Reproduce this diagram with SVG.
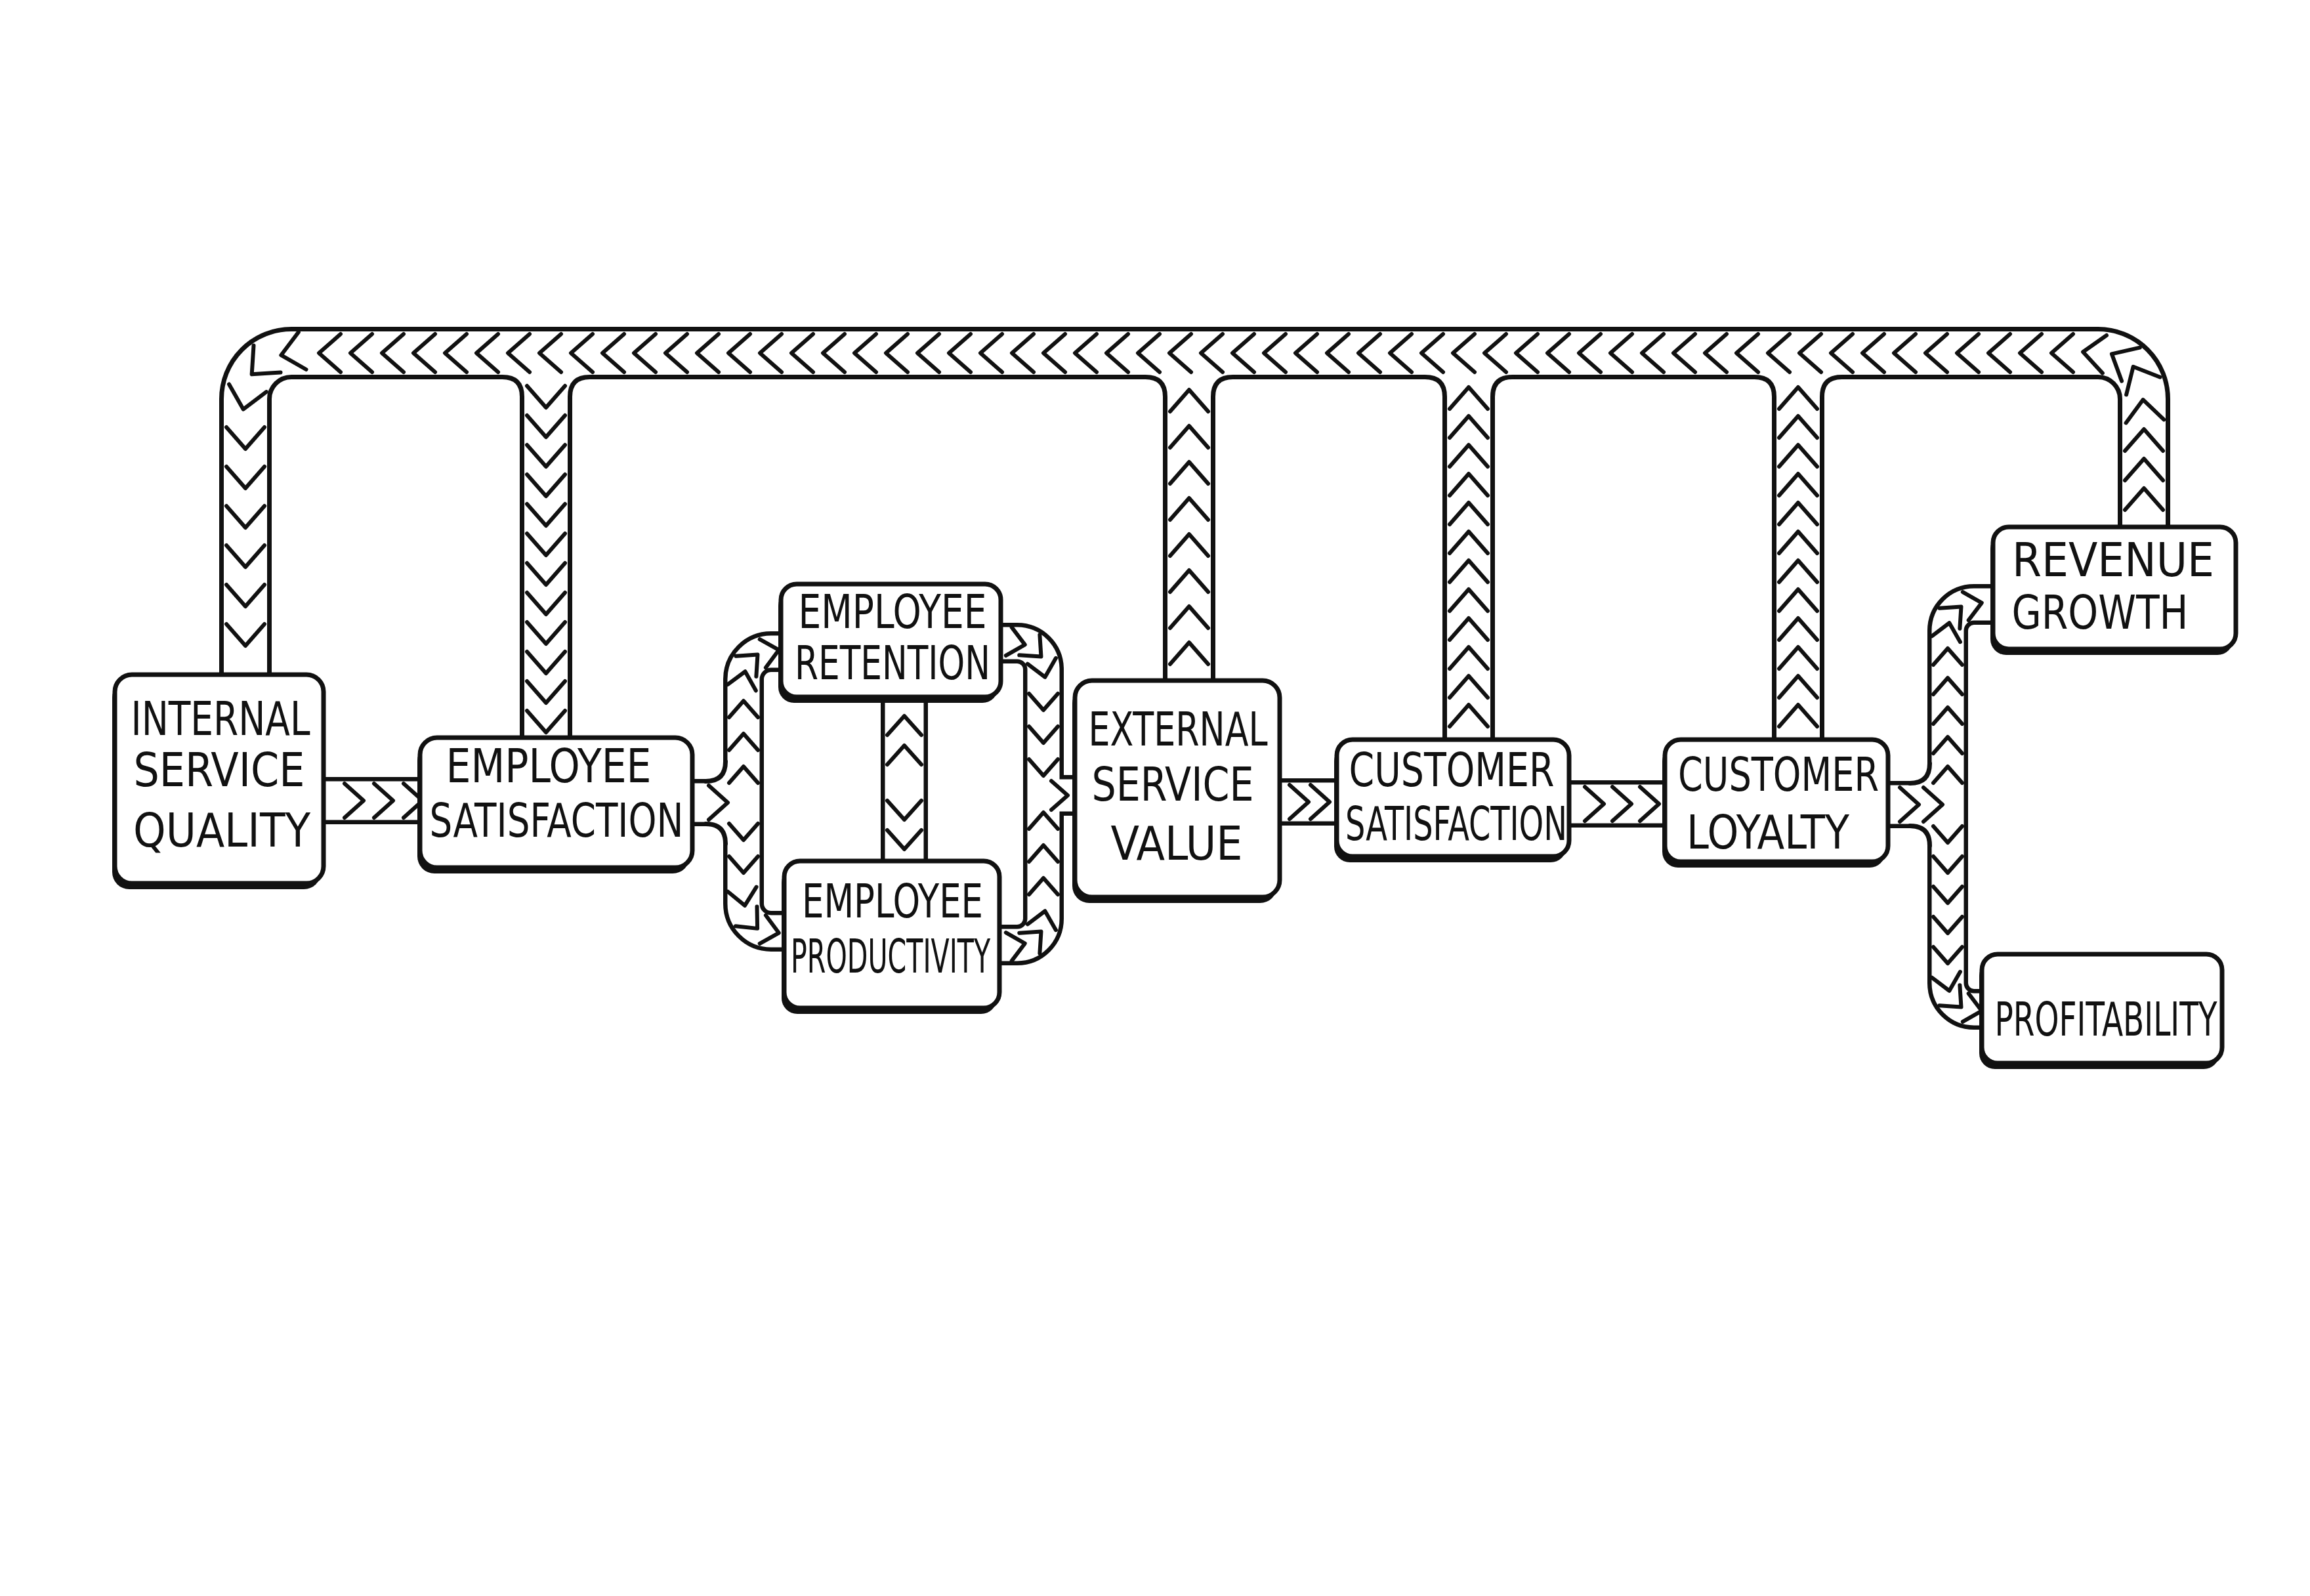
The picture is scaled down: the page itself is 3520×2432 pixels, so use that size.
<svg xmlns="http://www.w3.org/2000/svg" width="3520" height="2432" viewBox="0 0 3520 2432">
<style>
.bk{fill:none;stroke:#111;stroke-linejoin:round}
.wt{fill:none;stroke:#fff;stroke-linejoin:round}
.s1.bk{stroke-width:80}.s1.wt{stroke-width:66}
.s2.bk{stroke-width:72}.s2.wt{stroke-width:59}
.s3.bk{stroke-width:62}.s3.wt{stroke-width:49}
.chev{fill:none;stroke:#111;stroke-width:6;stroke-linecap:round;stroke-linejoin:round}
.m1{fill:none;stroke:none;marker-mid:url(#cv)}
.m2{fill:none;stroke:none;marker-mid:url(#cvm)}
.m3{fill:none;stroke:none;marker-mid:url(#cvs)}
.filw{fill:#fff;stroke:none}
.filb{fill:none;stroke:#111;stroke-width:7;stroke-linecap:round}
.shadow{fill:#111}
.box{fill:#fff;stroke:#111;stroke-width:7}
.lbl{font-family:"Liberation Sans Narrow","DejaVu Sans Condensed","Liberation Sans",sans-serif;font-size:72px;fill:#111;text-anchor:middle}
</style>
<defs>
<marker id="cv" viewBox="-40 -40 80 80" markerWidth="80" markerHeight="80" refX="0" refY="0" orient="auto" markerUnits="userSpaceOnUse"><path class="chev" d="M-17 -29 L16 0 L-17 29"/></marker>
<marker id="cvm" viewBox="-40 -40 80 80" markerWidth="80" markerHeight="80" refX="0" refY="0" orient="auto" markerUnits="userSpaceOnUse"><path class="chev" d="M-15 -26 L14 0 L-15 26"/></marker>
<marker id="cvs" viewBox="-40 -40 80 80" markerWidth="80" markerHeight="80" refX="0" refY="0" orient="auto" markerUnits="userSpaceOnUse"><path class="chev" d="M-13 -22 L12 0 L-13 22"/></marker>
<g id="fil"><path class="filw" d="M-30 -4 H4 V30 L0 30 Q0 0 -30 0 Z"/><path class="filb" d="M-30 0 Q0 0 0 30"/></g>
</defs>
<rect width="3520" height="2432" fill="#fff"/>
<g id="connectors">
<g id="outlines">
<path class="bk s1" d="M374 1040 V608 A70 70 0 0 1 444 538 H3197 A70 70 0 0 1 3267 608 V810"/>
<path class="bk s1" d="M832 538 V1130"/>
<path class="bk s1" d="M1812 538 V1045"/>
<path class="bk s1" d="M2238 538 V1130"/>
<path class="bk s1" d="M2740 538 V1130"/>
<path class="bk s2" d="M490 1220 H648"/>
<path class="bk s2" d="M1052 1223 H1133"/>
<path class="bk s2" d="M1945 1222 H2042"/>
<path class="bk s2" d="M2385 1225 H2542"/>
<path class="bk s2" d="M2872 1226 H2968"/>
<path class="bk s3" d="M1195 993 H1175 A42 42 0 0 0 1133 1035 V1377 A42 42 0 0 0 1175 1419 H1200"/>
<path class="bk s2" d="M1378 1060 V1320"/>
<path class="bk s3" d="M1520 980 H1550 A40 40 0 0 1 1590 1020 V1400 A40 40 0 0 1 1550 1440 H1520"/>
<path class="bk s3" d="M1590 1212 H1645"/>
<path class="bk s3" d="M3042 921 H3008 A40 40 0 0 0 2968 961 V1498 A40 40 0 0 0 3008 1538 H3025"/>
<path class="wt s1" d="M374 1040 V608 A70 70 0 0 1 444 538 H3197 A70 70 0 0 1 3267 608 V810"/>
<path class="wt s1" d="M832 538 V1130"/>
<path class="wt s1" d="M1812 538 V1045"/>
<path class="wt s1" d="M2238 538 V1130"/>
<path class="wt s1" d="M2740 538 V1130"/>
<path class="wt s2" d="M490 1220 H648"/>
<path class="wt s2" d="M1052 1223 H1133"/>
<path class="wt s2" d="M1945 1222 H2042"/>
<path class="wt s2" d="M2385 1225 H2542"/>
<path class="wt s2" d="M2872 1226 H2968"/>
<path class="wt s3" d="M1195 993 H1175 A42 42 0 0 0 1133 1035 V1377 A42 42 0 0 0 1175 1419 H1200"/>
<path class="wt s2" d="M1378 1060 V1320"/>
<path class="wt s3" d="M1520 980 H1550 A40 40 0 0 1 1590 1020 V1400 A40 40 0 0 1 1550 1440 H1520"/>
<path class="wt s3" d="M1590 1212 H1645"/>
<path class="wt s3" d="M3042 921 H3008 A40 40 0 0 0 2968 961 V1498 A40 40 0 0 0 3008 1538 H3025"/>
</g>
<g id="fillets">
<use href="#fil" transform="translate(795.5 574.5)"/>
<use href="#fil" transform="translate(868.5 574.5) scale(-1 1)"/>
<use href="#fil" transform="translate(1775.5 574.5)"/>
<use href="#fil" transform="translate(1848.5 574.5) scale(-1 1)"/>
<use href="#fil" transform="translate(2201.5 574.5)"/>
<use href="#fil" transform="translate(2274.5 574.5) scale(-1 1)"/>
<use href="#fil" transform="translate(2703.5 574.5)"/>
<use href="#fil" transform="translate(2776.5 574.5) scale(-1 1)"/>
<use href="#fil" transform="translate(1105.5 1190.5) scale(1 -1)"/>
<use href="#fil" transform="translate(1105.5 1255.5)"/>
<use href="#fil" transform="translate(2940.5 1193.5) scale(1 -1)"/>
<use href="#fil" transform="translate(2940.5 1258.5)"/>
</g>
<g id="chevrons">
<path class="m1" d="M3267 805 V760 V715 V670 V625 L3258 573 L3232 547 L3190 538 H3142 H3094 H3046 H2998 H2950 H2902 H2854 H2806 H2758 H2710 H2662 H2614 H2566 H2518 H2470 H2422 H2374 H2326 H2278 H2230 H2182 H2134 H2086 H2038 H1990 H1942 H1894 H1846 H1798 H1750 H1702 H1654 H1606 H1558 H1510 H1462 H1414 H1366 H1318 H1270 H1222 H1174 H1126 H1078 H1030 H982 H934 H886 H838 H790 H742 H694 H646 H598 H550 H502 L444 538 L395 559 L374 608 V668 V728 V788 V848 V908 V968 V1035"/>
<path class="m1" d="M832 560 V605 V650 V695 V740 V785 V830 V875 V920 V965 V1010 V1055 V1100 V1130"/>
<path class="m1" d="M1812 1045 V995 V940 V885 V830 V775 V720 V665 V610 V560"/>
<path class="m1" d="M2238 1130 V1090 V1046 V1002 V958 V914 V870 V826 V782 V738 V694 V650 V606 V560"/>
<path class="m1" d="M2740 1130 V1090 V1046 V1002 V958 V914 V870 V826 V782 V738 V694 V650 V606 V560"/>
<path class="m2" d="M495 1220 H540 H585 H630 H648"/>
<path class="m2" d="M1055 1223 H1095 H1133"/>
<path class="m3" d="M1133 1223 V1180 V1130 V1080 V1035 L1146 1006 L1175 993 H1200"/>
<path class="m3" d="M1133 1223 V1268 V1318 V1368 L1146 1406 L1175 1419 H1200"/>
<path class="m2" d="M1378 1190 V1150 V1105 V1065"/>
<path class="m2" d="M1378 1190 V1235 V1280 V1320"/>
<path class="m3" d="M1520 980 L1550 980 L1578 992 L1590 1020 V1070 V1120 V1170 V1212"/>
<path class="m3" d="M1520 1440 L1550 1440 L1578 1428 L1590 1400 V1350 V1300 V1250 V1212"/>
<path class="m3" d="M1590 1212 H1615 H1645"/>
<path class="m2" d="M1948 1222 H1980 H2012 H2044"/>
<path class="m2" d="M2388 1225 H2430 H2472 H2514 H2542"/>
<path class="m2" d="M2875 1226 H2910 H2946 H2968"/>
<path class="m3" d="M2968 1226 V1180 V1135 V1090 V1045 V1000 V961 L2980 933 L3008 921 H3042"/>
<path class="m3" d="M2968 1226 V1272 V1318 V1364 V1410 V1456 V1498 L2980 1526 L3008 1538 H3025"/>
</g>
</g>
<g id="node-internal-service-quality">
<rect class="shadow" x="171" y="1037" width="318" height="318" rx="26"/>
<rect class="box" x="175" y="1028" width="318" height="318" rx="26"/>
<text class="lbl" x="336" y="1120" textLength="273" lengthAdjust="spacingAndGlyphs">INTERNAL</text>
<text class="lbl" x="334" y="1198" textLength="261" lengthAdjust="spacingAndGlyphs">SERVICE</text>
<text class="lbl" x="338" y="1290" textLength="270" lengthAdjust="spacingAndGlyphs">QUALITY</text>
</g>
<g id="node-employee-satisfaction">
<rect class="shadow" x="636" y="1133" width="415" height="198" rx="26"/>
<rect class="box" x="640" y="1124" width="415" height="198" rx="26"/>
<text class="lbl" x="836" y="1192" textLength="313" lengthAdjust="spacingAndGlyphs">EMPLOYEE</text>
<text class="lbl" x="848" y="1275" textLength="387" lengthAdjust="spacingAndGlyphs">SATISFACTION</text>
</g>
<g id="node-employee-retention">
<rect class="shadow" x="1186" y="899" width="335" height="172" rx="24"/>
<rect class="box" x="1190" y="890" width="335" height="172" rx="24"/>
<text class="lbl" x="1360" y="957" textLength="287" lengthAdjust="spacingAndGlyphs">EMPLOYEE</text>
<text class="lbl" x="1360" y="1035" textLength="298" lengthAdjust="spacingAndGlyphs">RETENTION</text>
</g>
<g id="node-employee-productivity">
<rect class="shadow" x="1191" y="1321" width="328" height="224" rx="24"/>
<rect class="box" x="1195" y="1312" width="328" height="224" rx="24"/>
<text class="lbl" x="1360" y="1398" textLength="276" lengthAdjust="spacingAndGlyphs">EMPLOYEE</text>
<text class="lbl" x="1357" y="1482" textLength="304" lengthAdjust="spacingAndGlyphs">PRODUCTIVITY</text>
</g>
<g id="node-external-service-value">
<rect class="shadow" x="1634" y="1046" width="312" height="330" rx="26"/>
<rect class="box" x="1638" y="1037" width="312" height="330" rx="26"/>
<text class="lbl" x="1795" y="1136" textLength="273" lengthAdjust="spacingAndGlyphs">EXTERNAL</text>
<text class="lbl" x="1787" y="1220" textLength="247" lengthAdjust="spacingAndGlyphs">SERVICE</text>
<text class="lbl" x="1793" y="1310" textLength="201" lengthAdjust="spacingAndGlyphs">VALUE</text>
</g>
<g id="node-customer-satisfaction">
<rect class="shadow" x="2033" y="1136" width="354" height="178" rx="24"/>
<rect class="box" x="2037" y="1127" width="354" height="178" rx="24"/>
<text class="lbl" x="2212" y="1198" textLength="313" lengthAdjust="spacingAndGlyphs">CUSTOMER</text>
<text class="lbl" x="2219" y="1280" textLength="338" lengthAdjust="spacingAndGlyphs">SATISFACTION</text>
</g>
<g id="node-customer-loyalty">
<rect class="shadow" x="2533" y="1136" width="340" height="186" rx="24"/>
<rect class="box" x="2537" y="1127" width="340" height="186" rx="24"/>
<text class="lbl" x="2710" y="1205" textLength="306" lengthAdjust="spacingAndGlyphs">CUSTOMER</text>
<text class="lbl" x="2694" y="1293" textLength="248" lengthAdjust="spacingAndGlyphs">LOYALTY</text>
</g>
<g id="node-revenue-growth">
<rect class="shadow" x="3033" y="812" width="370" height="186" rx="24"/>
<rect class="box" x="3037" y="803" width="370" height="186" rx="24"/>
<text class="lbl" x="3220" y="878" textLength="308" lengthAdjust="spacingAndGlyphs">REVENUE</text>
<text class="lbl" x="3200" y="958" textLength="269" lengthAdjust="spacingAndGlyphs">GROWTH</text>
</g>
<g id="node-profitability">
<rect class="shadow" x="3016" y="1463" width="366" height="166" rx="24"/>
<rect class="box" x="3020" y="1454" width="366" height="166" rx="24"/>
<text class="lbl" x="3209" y="1578" textLength="339" lengthAdjust="spacingAndGlyphs">PROFITABILITY</text>
</g>
</svg>
